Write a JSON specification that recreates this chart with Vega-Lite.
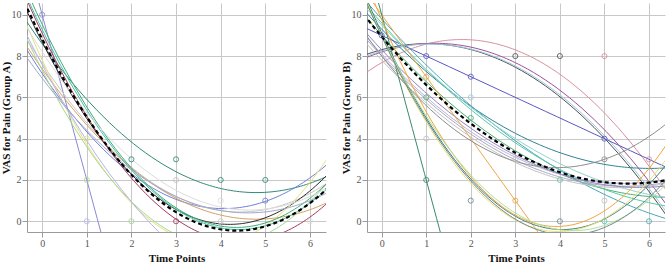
{
  "$schema": "https://vega.github.io/schema/vega-lite/v6.json",
  "padding": {"left": 0, "top": 3, "right": 5, "bottom": 2},
  "spacing": 14,
  "config": {
    "view": {"stroke": null},
    "font": "Liberation Serif",
    "axis": {
      "labelFont": "Liberation Serif", "labelFontSize": 10, "labelColor": "#555555",
      "titleFont": "Liberation Serif", "titleFontSize": 11, "titleFontWeight": "bold", "titleColor": "#111111",
      "gridColor": "#c8c8c8", "gridWidth": 1, "domainColor": "#9a9a9a", "tickColor": "#9a9a9a",
      "tickSize": 5, "labelPadding": 1, "titlePadding": 0
    }
  },
  "datasets": {
    "fit": [
      {"g": "A", "kind": "p", "id": "A01", "t": 0, "vas": 10}, {"g": "A", "kind": "p", "id": "A01", "t": 0.5, "vas": 6}, {"g": "A", "kind": "p", "id": "A01", "t": 1, "vas": 2},
      {"g": "A", "kind": "p", "id": "A02", "t": 1, "vas": 5.9}, {"g": "A", "kind": "p", "id": "A02", "t": 3, "vas": 2.4}, {"g": "A", "kind": "p", "id": "A02", "t": 6, "vas": 1.84},
      {"g": "A", "kind": "p", "id": "A03", "t": 3, "vas": 1.06}, {"g": "A", "kind": "p", "id": "A03", "t": 4.2, "vas": 0.62}, {"g": "A", "kind": "p", "id": "A03", "t": 6, "vas": 2.1},
      {"g": "A", "kind": "p", "id": "A04", "t": 3, "vas": 1.2}, {"g": "A", "kind": "p", "id": "A04", "t": 4.5, "vas": 0.45}, {"g": "A", "kind": "p", "id": "A04", "t": 6, "vas": 1.35},
      {"g": "A", "kind": "p", "id": "A05", "t": 0, "vas": 7.38}, {"g": "A", "kind": "p", "id": "A05", "t": 3, "vas": 1.12}, {"g": "A", "kind": "p", "id": "A05", "t": 6, "vas": 0.56},
      {"g": "A", "kind": "p", "id": "A06", "t": 0, "vas": 8.67}, {"g": "A", "kind": "p", "id": "A06", "t": 3, "vas": 0.57}, {"g": "A", "kind": "p", "id": "A06", "t": 6, "vas": 1.47},
      {"g": "A", "kind": "p", "id": "A07", "t": 0, "vas": 9.1}, {"g": "A", "kind": "p", "id": "A07", "t": 3, "vas": 0.1}, {"g": "A", "kind": "p", "id": "A07", "t": 6, "vas": 0.2},
      {"g": "A", "kind": "p", "id": "A08", "t": 0, "vas": 7.8}, {"g": "A", "kind": "p", "id": "A08", "t": 3, "vas": -0.72}, {"g": "A", "kind": "p", "id": "A08", "t": 6, "vas": 1.88},
      {"g": "A", "kind": "p", "id": "A09", "t": 0, "vas": 7.31}, {"g": "A", "kind": "p", "id": "A09", "t": 3, "vas": -0.64}, {"g": "A", "kind": "p", "id": "A09", "t": 6, "vas": 0.95},
      {"g": "A", "kind": "p", "id": "A10", "t": 0, "vas": 7.58}, {"g": "A", "kind": "p", "id": "A10", "t": 1, "vas": 3.9}, {"g": "A", "kind": "p", "id": "A10", "t": 2, "vas": 0.94},
      {"g": "A", "kind": "p", "id": "A11", "t": 0, "vas": 9.53}, {"g": "A", "kind": "p", "id": "A11", "t": 3, "vas": 0.65}, {"g": "A", "kind": "p", "id": "A11", "t": 6, "vas": 1.11},
      {"g": "A", "kind": "p", "id": "A12", "t": 0, "vas": 9.28}, {"g": "A", "kind": "p", "id": "A12", "t": 3, "vas": 0.58}, {"g": "A", "kind": "p", "id": "A12", "t": 6, "vas": 0.88},
      {"g": "A", "kind": "p", "id": "A13", "t": 0, "vas": 8.2}, {"g": "A", "kind": "p", "id": "A13", "t": 3, "vas": 1.5}, {"g": "A", "kind": "p", "id": "A13", "t": 6, "vas": 1.2},
      {"g": "A", "kind": "p", "id": "A14", "t": 1, "vas": 4.4}, {"g": "A", "kind": "p", "id": "A14", "t": 3, "vas": 1.2}, {"g": "A", "kind": "p", "id": "A14", "t": 6, "vas": 1.0},
      {"g": "A", "kind": "m", "id": "Amean", "t": 0, "vas": 8.82}, {"g": "A", "kind": "m", "id": "Amean", "t": 3, "vas": 0.44}, {"g": "A", "kind": "m", "id": "Amean", "t": 6, "vas": 0.88},

      {"g": "B", "kind": "p", "id": "B01", "t": 0, "vas": 7.68}, {"g": "B", "kind": "p", "id": "B01", "t": 3, "vas": 8.3}, {"g": "B", "kind": "p", "id": "B01", "t": 6, "vas": 2.68},
      {"g": "B", "kind": "p", "id": "B02", "t": 0, "vas": 8.31}, {"g": "B", "kind": "p", "id": "B02", "t": 3, "vas": 7.46}, {"g": "B", "kind": "p", "id": "B02", "t": 6, "vas": 1.45},
      {"g": "B", "kind": "p", "id": "B03", "t": 0, "vas": 8.2}, {"g": "B", "kind": "p", "id": "B03", "t": 3, "vas": 7.68}, {"g": "B", "kind": "p", "id": "B03", "t": 6, "vas": 1.94},
      {"g": "B", "kind": "p", "id": "B04", "t": 0, "vas": 8.24}, {"g": "B", "kind": "p", "id": "B04", "t": 3, "vas": 7.52}, {"g": "B", "kind": "p", "id": "B04", "t": 6, "vas": 1.6},
      {"g": "B", "kind": "p", "id": "B05", "t": 0, "vas": 9}, {"g": "B", "kind": "p", "id": "B05", "t": 3, "vas": 6}, {"g": "B", "kind": "p", "id": "B05", "t": 6, "vas": 3},
      {"g": "B", "kind": "p", "id": "B06", "t": 0, "vas": 9.3}, {"g": "B", "kind": "p", "id": "B06", "t": 3, "vas": 4.26}, {"g": "B", "kind": "p", "id": "B06", "t": 6, "vas": 2.56},
      {"g": "B", "kind": "p", "id": "B07", "t": 0, "vas": 9.0}, {"g": "B", "kind": "p", "id": "B07", "t": 2, "vas": 4.9}, {"g": "B", "kind": "p", "id": "B07", "t": 6, "vas": 1.2},
      {"g": "B", "kind": "p", "id": "B08", "t": 0, "vas": 9.8}, {"g": "B", "kind": "p", "id": "B08", "t": 3, "vas": 3.9}, {"g": "B", "kind": "p", "id": "B08", "t": 6, "vas": 0.4},
      {"g": "B", "kind": "p", "id": "B09", "t": 0, "vas": 9.6}, {"g": "B", "kind": "p", "id": "B09", "t": 3, "vas": 3.8}, {"g": "B", "kind": "p", "id": "B09", "t": 6, "vas": 0.9},
      {"g": "B", "kind": "p", "id": "B10", "t": 0, "vas": 9.5}, {"g": "B", "kind": "p", "id": "B10", "t": 3, "vas": 4.0}, {"g": "B", "kind": "p", "id": "B10", "t": 6, "vas": 1.3},
      {"g": "B", "kind": "p", "id": "B11", "t": 0, "vas": 8.0}, {"g": "B", "kind": "p", "id": "B11", "t": 3, "vas": 2.97}, {"g": "B", "kind": "p", "id": "B11", "t": 6, "vas": 1.76},
      {"g": "B", "kind": "p", "id": "B12", "t": 0, "vas": 8.1}, {"g": "B", "kind": "p", "id": "B12", "t": 3, "vas": 3.1}, {"g": "B", "kind": "p", "id": "B12", "t": 6, "vas": 1.9},
      {"g": "B", "kind": "p", "id": "B13", "t": 0, "vas": 7.8}, {"g": "B", "kind": "p", "id": "B13", "t": 3, "vas": 2.85}, {"g": "B", "kind": "p", "id": "B13", "t": 6, "vas": 1.7},
      {"g": "B", "kind": "p", "id": "B14", "t": 0, "vas": 8.3}, {"g": "B", "kind": "p", "id": "B14", "t": 3, "vas": 3.2}, {"g": "B", "kind": "p", "id": "B14", "t": 6, "vas": 1.65},
      {"g": "B", "kind": "p", "id": "B15", "t": 0, "vas": 10}, {"g": "B", "kind": "p", "id": "B15", "t": 1, "vas": 7}, {"g": "B", "kind": "p", "id": "B15", "t": 3, "vas": 1},
      {"g": "B", "kind": "p", "id": "B16", "t": 0, "vas": 10}, {"g": "B", "kind": "p", "id": "B16", "t": 0.5, "vas": 6}, {"g": "B", "kind": "p", "id": "B16", "t": 1, "vas": 2},
      {"g": "B", "kind": "p", "id": "B17", "t": 1, "vas": 5}, {"g": "B", "kind": "p", "id": "B17", "t": 2.5, "vas": 1.0}, {"g": "B", "kind": "p", "id": "B17", "t": 4, "vas": -0.4},
      {"g": "B", "kind": "p", "id": "B18", "t": 1, "vas": 4.8}, {"g": "B", "kind": "p", "id": "B18", "t": 2.5, "vas": 0.8}, {"g": "B", "kind": "p", "id": "B18", "t": 4, "vas": -0.5},
      {"g": "B", "kind": "p", "id": "B19", "t": 1, "vas": 5.3}, {"g": "B", "kind": "p", "id": "B19", "t": 3, "vas": 0.3}, {"g": "B", "kind": "p", "id": "B19", "t": 5, "vas": 0.5},
      {"g": "B", "kind": "p", "id": "B20", "t": 1, "vas": 5.1}, {"g": "B", "kind": "p", "id": "B20", "t": 3, "vas": 0.4}, {"g": "B", "kind": "p", "id": "B20", "t": 5, "vas": -0.2},
      {"g": "B", "kind": "p", "id": "B21", "t": 1, "vas": 4.9}, {"g": "B", "kind": "p", "id": "B21", "t": 3, "vas": 0.1}, {"g": "B", "kind": "p", "id": "B21", "t": 5, "vas": -0.3},
      {"g": "B", "kind": "p", "id": "B22", "t": 0, "vas": 8}, {"g": "B", "kind": "p", "id": "B22", "t": 3, "vas": 2.9}, {"g": "B", "kind": "p", "id": "B22", "t": 5, "vas": 3},
      {"g": "B", "kind": "m", "id": "Bmean", "t": 0, "vas": 8.94}, {"g": "B", "kind": "m", "id": "Bmean", "t": 3, "vas": 3.32}, {"g": "B", "kind": "m", "id": "Bmean", "t": 6, "vas": 1.87}
    ],
    "obs": [
      {"g": "A", "id": "A01", "t": 0, "vas": 10}, {"g": "A", "id": "A10", "t": 1, "vas": 0}, {"g": "A", "id": "A09", "t": 1, "vas": 2},
      {"g": "A", "id": "A08", "t": 1, "vas": 4}, {"g": "A", "id": "A09", "t": 2, "vas": 0}, {"g": "A", "id": "A02", "t": 2, "vas": 3},
      {"g": "A", "id": "A02", "t": 3, "vas": 3}, {"g": "A", "id": "A02", "t": 4, "vas": 2}, {"g": "A", "id": "A02", "t": 5, "vas": 2},
      {"g": "A", "id": "A03", "t": 5, "vas": 1}, {"g": "A", "id": "A07", "t": 3, "vas": 0}, {"g": "A", "id": "A04", "t": 3, "vas": 2},
      {"g": "A", "id": "A13", "t": 4, "vas": 1}, {"g": "A", "id": "A04", "t": 4, "vas": 0}, {"g": "A", "id": "A13", "t": 6, "vas": 0},
      {"g": "B", "id": "B05", "t": 0, "vas": 9}, {"g": "B", "id": "B05", "t": 1, "vas": 8}, {"g": "B", "id": "B05", "t": 2, "vas": 7},
      {"g": "B", "id": "B05", "t": 5, "vas": 4}, {"g": "B", "id": "B01", "t": 6, "vas": 3}, {"g": "B", "id": "B02", "t": 3, "vas": 8},
      {"g": "B", "id": "B02", "t": 4, "vas": 8}, {"g": "B", "id": "B01", "t": 5, "vas": 8}, {"g": "B", "id": "B15", "t": 1, "vas": 7},
      {"g": "B", "id": "B07", "t": 1, "vas": 6}, {"g": "B", "id": "B07", "t": 2, "vas": 5}, {"g": "B", "id": "B13", "t": 1, "vas": 4},
      {"g": "B", "id": "B16", "t": 1, "vas": 2}, {"g": "B", "id": "B04", "t": 2, "vas": 6}, {"g": "B", "id": "B21", "t": 2, "vas": 1},
      {"g": "B", "id": "B13", "t": 3, "vas": 3}, {"g": "B", "id": "B15", "t": 3, "vas": 1}, {"g": "B", "id": "B09", "t": 4, "vas": 2},
      {"g": "B", "id": "B21", "t": 4, "vas": 0}, {"g": "B", "id": "B22", "t": 5, "vas": 3}, {"g": "B", "id": "B13", "t": 5, "vas": 1},
      {"g": "B", "id": "B09", "t": 5, "vas": 0}, {"g": "B", "id": "B08", "t": 6, "vas": 0}
    ]
  },
  "resolve": {"scale": {"color": "independent"}},
  "hconcat": [
    {
      "width": 299,
      "height": 229,
      "layer": [
        {
          "data": {"name": "fit"},
          "transform": [
            {"filter": "datum.g === 'A' && datum.kind === 'p'"},
            {"regression": "vas", "on": "t", "groupby": ["id"], "method": "poly", "order": 2, "extent": [-0.4, 6.4]}
          ],
          "mark": {"type": "line", "clip": true, "strokeWidth": 1},
          "encoding": {
            "x": {"field": "t", "type": "quantitative", "scale": {"domain": [-0.34, 6.36], "nice": false, "zero": false},
                  "axis": {"values": [0, 1, 2, 3, 4, 5, 6], "format": "d", "title": "Time Points", "titlePadding": 4}},
            "y": {"field": "vas", "type": "quantitative", "scale": {"domain": [-0.52, 10.57], "nice": false, "zero": false},
                  "axis": {"values": [0, 2, 4, 6, 8, 10], "format": "d", "title": "VAS for Pain (Group A)"}},
            "color": {"field": "id", "type": "nominal", "legend": null,
                      "scale": {"domain": ["A01", "A02", "A03", "A04", "A05", "A06", "A07", "A08", "A09", "A10", "A11", "A12", "A13", "A14"],
                                "range": ["#8a8ad6", "#2f8a78", "#6f80d8", "#c6c6c6", "#d8a060", "#2a2a2a", "#a8385a", "#e6e27a", "#a8d890", "#b4b4f0", "#3fae72", "#45c0b0", "#dcdcdc", "#a0a8c8"]}}
          }
        },
        {
          "data": {"name": "fit"},
          "transform": [
            {"filter": "datum.g === 'A' && datum.kind === 'm'"},
            {"regression": "vas", "on": "t", "method": "poly", "order": 2, "extent": [-0.4, 6.4]}
          ],
          "mark": {"type": "line", "clip": true, "color": "#000000", "strokeWidth": 2.2, "strokeDash": [4, 3]},
          "encoding": {
            "x": {"field": "t", "type": "quantitative"},
            "y": {"field": "vas", "type": "quantitative"}
          }
        },
        {
          "data": {"name": "obs"},
          "transform": [{"filter": "datum.g === 'A'"}],
          "mark": {"type": "point", "filled": false, "size": 26, "strokeWidth": 1, "opacity": 0.85, "clip": true},
          "encoding": {
            "x": {"field": "t", "type": "quantitative"},
            "y": {"field": "vas", "type": "quantitative"},
            "color": {"field": "id", "type": "nominal", "legend": null}
          }
        }
      ]
    },
    {
      "width": 298,
      "height": 229,
      "layer": [
        {
          "data": {"name": "fit"},
          "transform": [
            {"filter": "datum.g === 'B' && datum.kind === 'p'"},
            {"regression": "vas", "on": "t", "groupby": ["id"], "method": "poly", "order": 2, "extent": [-0.4, 6.4]}
          ],
          "mark": {"type": "line", "clip": true, "strokeWidth": 1},
          "encoding": {
            "x": {"field": "t", "type": "quantitative", "scale": {"domain": [-0.33, 6.36], "nice": false, "zero": false},
                  "axis": {"values": [0, 1, 2, 3, 4, 5, 6], "format": "d", "title": "Time Points", "titlePadding": 4}},
            "y": {"field": "vas", "type": "quantitative", "scale": {"domain": [-0.52, 10.57], "nice": false, "zero": false},
                  "axis": {"values": [0, 2, 4, 6, 8, 10], "format": "d", "title": "VAS for Pain (Group B)"}},
            "color": {"field": "id", "type": "nominal", "legend": null,
                      "scale": {"domain": ["B01", "B02", "B03", "B04", "B05", "B06", "B07", "B08", "B09", "B10", "B11", "B12", "B13", "B14", "B15", "B16", "B17", "B18", "B19", "B20", "B21", "B22"],
                                "range": ["#d8909c", "#505050", "#a0509a", "#9ccbe2", "#5a58c6", "#2f8394", "#44b072", "#48aabb", "#5cc8a8", "#92d4cc", "#aaaac2", "#bab2da", "#c2c2c2", "#9484c4", "#f0a848", "#3a8a6c", "#3f8080", "#ece272", "#f3a63a", "#b2e09c", "#6a8a8a", "#8c8c8c"]}}
          }
        },
        {
          "data": {"name": "fit"},
          "transform": [
            {"filter": "datum.g === 'B' && datum.kind === 'm'"},
            {"regression": "vas", "on": "t", "method": "poly", "order": 2, "extent": [-0.4, 6.4]}
          ],
          "mark": {"type": "line", "clip": true, "color": "#000000", "strokeWidth": 2.2, "strokeDash": [4, 3]},
          "encoding": {
            "x": {"field": "t", "type": "quantitative"},
            "y": {"field": "vas", "type": "quantitative"}
          }
        },
        {
          "data": {"name": "obs"},
          "transform": [{"filter": "datum.g === 'B'"}],
          "mark": {"type": "point", "filled": false, "size": 26, "strokeWidth": 1, "opacity": 0.85, "clip": true},
          "encoding": {
            "x": {"field": "t", "type": "quantitative"},
            "y": {"field": "vas", "type": "quantitative"},
            "color": {"field": "id", "type": "nominal", "legend": null}
          }
        }
      ]
    }
  ]
}
